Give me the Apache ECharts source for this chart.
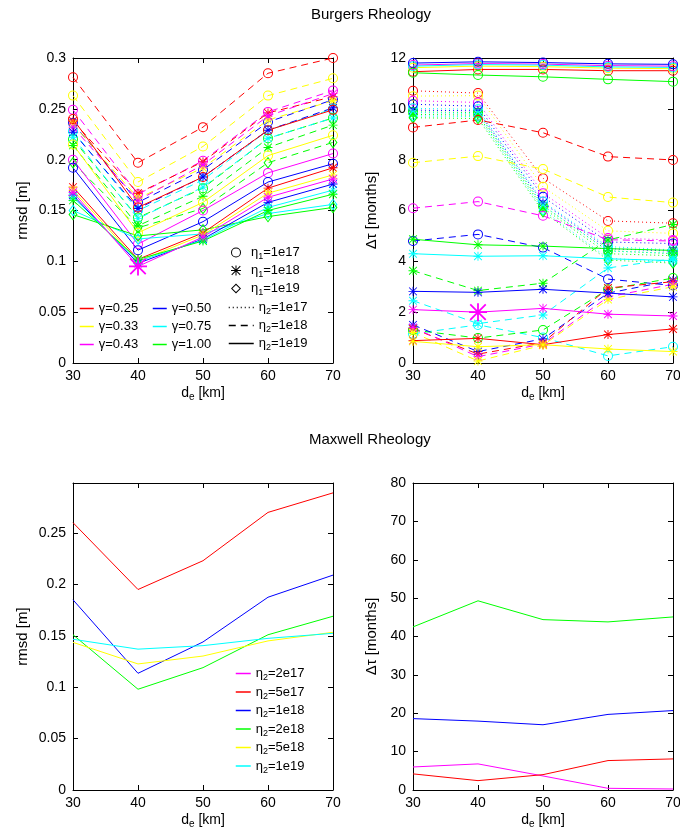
<!DOCTYPE html>
<html><head><meta charset="utf-8">
<script src="https://cdn.jsdelivr.net/npm/echarts@6/dist/echarts.min.js"></script>
<style>html,body{margin:0;padding:0;background:#fff}#c{width:680px;height:834px}</style>
</head><body><div id="c"></div><script>
// ---------------- DATA ----------------
const deKm = [30, 40, 50, 60, 70];
const gammaNames = ['γ=0.25', 'γ=0.33', 'γ=0.43', 'γ=0.50', 'γ=0.75', 'γ=1.00'];
const eta1Names = ['η1=1e17', 'η1=1e18', 'η1=1e19'];
const eta2Names = ['η2=1e17', 'η2=1e18', 'η2=1e19'];
const maxwellNames = ['η2=2e17', 'η2=5e17', 'η2=1e18', 'η2=2e18', 'η2=5e18', 'η2=1e19'];

// Burgers rmsd [m]; naming: rm_<gamma>_<eta1 exp>_<eta2 exp>
const rm_R_17_18 = [0.281, 0.197, 0.232, 0.285, 0.300];
const rm_Y_17_18 = [0.263, 0.178, 0.213, 0.263, 0.280];
const rm_M_17_18 = [0.249, 0.166, 0.199, 0.247, 0.268];
const rm_B_17_18 = [0.236, 0.158, 0.190, 0.237, 0.259];
const rm_C_17_18 = [0.228, 0.150, 0.180, 0.229, 0.250];
const rm_G_17_18 = [0.220, 0.143, 0.172, 0.221, 0.241];
const rm_R_18_18 = [0.238, 0.167, 0.198, 0.246, 0.262];
const rm_Y_18_18 = [0.235, 0.162, 0.192, 0.239, 0.258];
const rm_M_18_18 = [0.232, 0.160, 0.195, 0.243, 0.265];
const rm_B_18_18 = [0.227, 0.152, 0.183, 0.229, 0.251];
const rm_C_18_18 = [0.222, 0.142, 0.173, 0.221, 0.241];
const rm_G_18_18 = [0.214, 0.135, 0.164, 0.212, 0.234];
const rm_G_19_18 = [0.197, 0.133, 0.152, 0.197, 0.217];
const rm_R_17_19 = [0.240, 0.153, 0.183, 0.229, 0.249];
const rm_Y_17_19 = [0.215, 0.128, 0.158, 0.204, 0.224];
const rm_M_17_19 = [0.200, 0.117, 0.150, 0.187, 0.206];
const rm_B_17_19 = [0.192, 0.111, 0.139, 0.178, 0.196];
const rm_R_18_19 = [0.173, 0.102, 0.128, 0.172, 0.192];
const rm_Y_18_19 = [0.170, 0.100, 0.126, 0.167, 0.185];
const rm_M_18_19 = [0.168, 0.095, 0.124, 0.163, 0.181];
const rm_B_18_19 = [0.165, 0.098, 0.122, 0.158, 0.176];
const rm_C_18_19 = [0.163, 0.100, 0.121, 0.153, 0.170];
const rm_G_18_19 = [0.160, 0.102, 0.120, 0.150, 0.166];
const rm_C_19_19 = [0.150, 0.122, 0.127, 0.147, 0.156];
const rm_G_19_19 = [0.146, 0.125, 0.131, 0.144, 0.153];

// Burgers delta tau [months]
const dt_R_17_19 = [11.46, 11.55, 11.55, 11.50, 11.50];
const dt_Y_17_19 = [11.62, 11.68, 11.66, 11.60, 11.58];
const dt_M_17_19 = [11.72, 11.78, 11.76, 11.70, 11.68];
const dt_C_17_19 = [11.68, 11.74, 11.72, 11.65, 11.63];
const dt_B_17_19 = [11.80, 11.85, 11.82, 11.77, 11.75];
const dt_G_17_19 = [11.42, 11.33, 11.26, 11.16, 11.07];
const dt_R_17_17 = [10.71, 10.62, 7.27, 5.59, 5.50];
const dt_Y_17_17 = [10.50, 10.52, 6.93, 5.20, 5.10];
const dt_M_17_17 = [10.32, 10.25, 6.68, 4.92, 4.84];
const dt_B_17_17 = [10.18, 10.10, 6.54, 4.76, 4.70];
const dt_C_17_17 = [10.02, 9.98, 6.35, 4.58, 4.45];
const dt_G_17_17 = [9.88, 9.85, 6.18, 4.42, 4.30];
const dt_B_18_17 = [9.95, 9.92, 6.30, 4.50, 4.40];
const dt_C_18_17 = [9.85, 9.82, 6.20, 4.40, 4.32];
const dt_G_18_17 = [9.78, 9.75, 6.10, 4.30, 4.22];
const dt_C_19_17 = [9.72, 9.70, 6.02, 4.12, 3.98];
const dt_G_19_17 = [9.65, 9.62, 5.95, 4.05, 3.93];
const dt_R_17_18 = [9.27, 9.56, 9.06, 8.12, 7.99];
const dt_Y_17_18 = [7.88, 8.14, 7.63, 6.53, 6.31];
const dt_M_17_18 = [6.09, 6.35, 5.79, 4.85, 4.80];
const dt_B_17_18 = [4.80, 5.06, 4.54, 3.30, 3.05];
const dt_C_17_18 = [1.15, 1.50, 1.00, 0.28, 0.64];
const dt_G_17_18 = [1.30, 0.98, 1.30, 2.90, 3.34];
const dt_G_18_18 = [3.63, 2.85, 3.14, 4.84, 5.45];
const dt_C_18_18 = [2.45, 1.55, 1.89, 3.74, 4.10];
const dt_B_18_18 = [1.50, 0.45, 0.95, 2.75, 3.25];
const dt_R_18_18 = [1.35, 0.35, 0.80, 2.95, 3.20];
const dt_M_18_18 = [1.40, 0.25, 0.75, 2.60, 3.10];
const dt_Y_18_18 = [1.20, 0.08, 0.70, 2.50, 3.00];
const dt_G_18_19 = [4.87, 4.65, 4.60, 4.50, 4.43];
const dt_C_18_19 = [4.30, 4.20, 4.22, 4.10, 4.03];
const dt_B_18_19 = [2.82, 2.78, 2.90, 2.75, 2.60];
const dt_M_18_19 = [2.10, 2.00, 2.15, 1.92, 1.85];
const dt_R_18_19 = [0.88, 0.97, 0.72, 1.12, 1.34];
const dt_Y_18_19 = [0.85, 0.64, 0.72, 0.55, 0.45];

// Maxwell rheology (order: 2e17, 5e17, 1e18, 2e18, 5e18, 1e19)
const mxRmsd_2e17 = [];
const mxRmsd_5e17 = [0.260, 0.195, 0.223, 0.270, 0.289];
const mxRmsd_1e18 = [0.185, 0.1135, 0.144, 0.1875, 0.209];
const mxRmsd_2e18 = [0.151, 0.098, 0.119, 0.151, 0.169];
const mxRmsd_5e18 = [0.1436, 0.1226, 0.1303, 0.145, 0.1534];
const mxRmsd_1e19 = [0.1466, 0.137, 0.1404, 0.1475, 0.1524];
const mxDt_2e17 = [6.0, 6.8, 3.66, 0.44, 0.26];
const mxDt_5e17 = [4.2, 2.44, 4.0, 7.67, 8.1];
const mxDt_1e18 = [18.6, 17.95, 17.0, 19.7, 20.7];
const mxDt_2e18 = [42.5, 49.3, 44.4, 43.8, 45.1];
const mxDt_5e18 = [];
const mxDt_1e19 = [];

// axis ranges [min, max, interval]
const xRange = [30, 70, 10];
const rmsdRangeTop = [0, 0.3, 0.05];
const dtRangeTop = [0, 12, 2];
const rmsdRangeBottom = [0, 0.2986, 0.05];
const dtRangeBottom = [0, 80, 10];

// best fit model (gamma=0.43, eta1=1e18, eta2=1e19, de=40)
const bestFit = { g: 'M', e1: 1, e2: 2, idx: 1 };

// series lists: [values, gamma key, eta1 index, eta2 index]
const burgersRmsdList = [
  [rm_R_17_18,'R',0,1],[rm_Y_17_18,'Y',0,1],[rm_M_17_18,'M',0,1],[rm_B_17_18,'B',0,1],[rm_C_17_18,'C',0,1],[rm_G_17_18,'G',0,1],
  [rm_R_18_18,'R',1,1],[rm_Y_18_18,'Y',1,1],[rm_M_18_18,'M',1,1],[rm_B_18_18,'B',1,1],[rm_C_18_18,'C',1,1],[rm_G_18_18,'G',1,1],
  [rm_G_19_18,'G',2,1],
  [rm_R_17_19,'R',0,2],[rm_Y_17_19,'Y',0,2],[rm_M_17_19,'M',0,2],[rm_B_17_19,'B',0,2],
  [rm_C_19_19,'C',2,2],[rm_G_19_19,'G',2,2],
  [rm_R_18_19,'R',1,2],[rm_Y_18_19,'Y',1,2],[rm_B_18_19,'B',1,2],[rm_C_18_19,'C',1,2],[rm_G_18_19,'G',1,2],[rm_M_18_19,'M',1,2]
];
const burgersDtList = [
  [dt_R_17_17,'R',0,0],[dt_Y_17_17,'Y',0,0],[dt_M_17_17,'M',0,0],[dt_B_17_17,'B',0,0],[dt_C_17_17,'C',0,0],[dt_G_17_17,'G',0,0],
  [dt_B_18_17,'B',1,0],[dt_C_18_17,'C',1,0],[dt_G_18_17,'G',1,0],[dt_C_19_17,'C',2,0],[dt_G_19_17,'G',2,0],
  [dt_R_17_18,'R',0,1],[dt_Y_17_18,'Y',0,1],[dt_M_17_18,'M',0,1],[dt_B_17_18,'B',0,1],[dt_C_17_18,'C',0,1],[dt_G_17_18,'G',0,1],
  [dt_G_18_18,'G',1,1],[dt_C_18_18,'C',1,1],[dt_B_18_18,'B',1,1],[dt_R_18_18,'R',1,1],[dt_M_18_18,'M',1,1],[dt_Y_18_18,'Y',1,1],
  [dt_R_17_19,'R',0,2],[dt_Y_17_19,'Y',0,2],[dt_M_17_19,'M',0,2],[dt_C_17_19,'C',0,2],[dt_B_17_19,'B',0,2],[dt_G_17_19,'G',0,2],
  [dt_G_18_19,'G',1,2],[dt_C_18_19,'C',1,2],[dt_B_18_19,'B',1,2],[dt_R_18_19,'R',1,2],[dt_Y_18_19,'Y',1,2],[dt_M_18_19,'M',1,2]
];
const maxwellRmsd = [mxRmsd_2e17, mxRmsd_5e17, mxRmsd_1e18, mxRmsd_2e18, mxRmsd_5e18, mxRmsd_1e19];
const maxwellDt = [mxDt_2e17, mxDt_5e17, mxDt_1e18, mxDt_2e18, mxDt_5e18, mxDt_1e19];

// ---------------- STYLE ----------------
const FONT = '"Liberation Sans", Arial, Helvetica, sans-serif';
const gammaKeys = ['R','Y','M','B','C','G'];
const colors = { R:'#ff0000', Y:'#ffff00', M:'#ff00ff', B:'#0000ff', C:'#00ffff', G:'#00ff00' };
const maxwellColors = ['#ff00ff', '#ff0000', '#0000ff', '#00ff00', '#ffff00', '#00ffff'];
const RING = 'path://M10 0 A10 10 0 1 1 9.99 0 Z M10 2 A8 8 0 1 0 10.01 2 Z';
const STAR = 'path://M0 9 L20 9 L20 11 L0 11 Z M9 0 L11 0 L11 20 L9 20 Z M2.1 0.7 L19.3 17.9 L17.9 19.3 L0.7 2.1 Z M17.9 0.7 L19.3 2.1 L2.1 19.3 L0.7 17.9 Z';
const DIAM = 'path://M10 0 L20 10 L10 20 L0 10 Z M10 2.8 L2.8 10 L10 17.2 L17.2 10 Z';
const markers = [RING, STAR, DIAM];
const markerSizes = [10, 9, [9, 12]];
const dashes = [[1, 3], [7, 5], 'solid'];

const richText = {
  n: { fontSize: 14, fontFamily: FONT, color: '#000' },
  s: { fontSize: 10, fontFamily: FONT, color: '#000', verticalAlign: 'bottom', padding: [7, 0, 0, 0] }
};
const legRich = {
  n: { fontSize: 13, fontFamily: FONT, color: '#000', lineHeight: 18 },
  s: { fontSize: 9, fontFamily: FONT, color: '#000', lineHeight: 9, verticalAlign: 'bottom' }
};

const grids = [
  { left: 73, top: 58, width: 260, height: 305 },
  { left: 413, top: 58, width: 260, height: 305 },
  { left: 73, top: 483, width: 260, height: 307 },
  { left: 413, top: 483, width: 260, height: 307 }
].map(g => Object.assign({ show: false, outerBoundsMode: 'none', containLabel: false }, g));

const xAxes = [], yAxes = [];
function addAxes(gi, yr, yName, yGap, hideMax) {
  [false, true].forEach(top => {
    xAxes.push({
      type: 'value', gridIndex: gi, min: xRange[0], max: xRange[1], interval: xRange[2],
      position: top ? 'top' : 'bottom',
      axisLine: { show: true, onZero: false, lineStyle: { color: '#000', width: 1 } },
      axisTick: { show: true, inside: true, length: 5, lineStyle: { color: '#000', width: 1 } },
      axisLabel: { show: !top, color: '#000', fontSize: 14, fontFamily: FONT, margin: 6 },
      splitLine: { show: false },
      name: top ? '' : '{n|d}{s|e}{n| [km]}', nameLocation: 'middle', nameGap: 22,
      nameTextStyle: { rich: richText }
    });
  });
  [false, true].forEach(right => {
    yAxes.push({
      type: 'value', gridIndex: gi, min: yr[0], max: yr[1], interval: yr[2],
      position: right ? 'right' : 'left',
      axisLine: { show: true, onZero: false, lineStyle: { color: '#000', width: 1 } },
      axisTick: { show: true, inside: true, length: 5, lineStyle: { color: '#000', width: 1 } },
      axisLabel: { show: !right, color: '#000', fontSize: 14, fontFamily: FONT, margin: 7, showMaxLabel: !hideMax },
      splitLine: { show: false },
      name: right ? '' : yName, nameLocation: 'middle', nameGap: yGap,
      nameTextStyle: { color: '#000', fontSize: 15, fontFamily: FONT }
    });
  });
}
addAxes(0, rmsdRangeTop, 'rmsd [m]', 43, false);
addAxes(1, dtRangeTop, 'Δτ [months]', 34, false);
addAxes(2, rmsdRangeBottom, 'rmsd [m]', 43, true);
addAxes(3, dtRangeBottom, 'Δτ [months]', 34, false);

const series = [];
function burgers(gi, list) {
  list.forEach(([vals, g, e1, e2]) => {
    const c = colors[g];
    const isBest = g === bestFit.g && e1 === bestFit.e1 && e2 === bestFit.e2;
    series.push({
      type: 'line', xAxisIndex: 2 * gi, yAxisIndex: 2 * gi,
      data: deKm.map((x, k) => (isBest && k === bestFit.idx) ? { value: [x, vals[k]], symbolSize: 18 } : [x, vals[k]]),
      symbol: markers[e1], symbolSize: markerSizes[e1],
      color: c, itemStyle: { color: c },
      lineStyle: { color: c, width: 1, type: dashes[e2] },
      animation: false, silent: true
    });
  });
}
burgers(0, burgersRmsdList);
burgers(1, burgersDtList);

function maxwell(gi, arrs) {
  arrs.forEach((vals, i) => {
    series.push({
      type: 'line', name: 'M|' + maxwellNames[i], xAxisIndex: 2 * gi, yAxisIndex: 2 * gi,
      data: vals.map((v, k) => [deKm[k], v]), symbol: 'none',
      color: maxwellColors[i], itemStyle: { color: maxwellColors[i], opacity: 0 },
      lineStyle: { color: maxwellColors[i], width: 1, opacity: 1 },
      animation: false, silent: true
    });
  });
}
maxwell(2, maxwellRmsd);
maxwell(3, maxwellDt);

// legend-only series
gammaNames.forEach((n, i) => series.push({ type: 'line', name: n, data: [], xAxisIndex: 0, yAxisIndex: 0,
  symbol: 'none', color: colors[gammaKeys[i]], itemStyle: { opacity: 0 }, lineStyle: { color: colors[gammaKeys[i]], width: 1, opacity: 1 } }));
eta1Names.forEach((n, i) => series.push({ type: 'line', name: n, data: [], xAxisIndex: 0, yAxisIndex: 0,
  symbol: markers[i], color: '#000', itemStyle: { color: '#000' }, lineStyle: { width: 0 } }));
eta2Names.forEach((n, i) => series.push({ type: 'line', name: 'B|' + n, data: [], xAxisIndex: 0, yAxisIndex: 0,
  symbol: 'none', color: '#000', itemStyle: { opacity: 0 }, lineStyle: { color: '#000', width: 1, type: dashes[i], opacity: 1 } }));

function fmt(name) {
  const t = name.indexOf('|') >= 0 ? name.split('|')[1] : name;
  const m = t.match(/^η(\d)(=.*)$/);
  if (m) return '{n|η}{s|' + m[1] + '}{n|' + m[2] + '}';
  return '{n|' + t + '}';
}
const legBase = { orient: 'vertical', padding: 0, selectedMode: false, formatter: fmt,
  textStyle: { rich: legRich, fontSize: 13, fontFamily: FONT, color: '#000' } };
const lineOnly = { itemStyle: { opacity: 0 }, lineStyle: { opacity: 1, width: 1.5 } };
const legend = [
  Object.assign({}, legBase, lineOnly, { data: gammaNames.slice(0, 3), left: 79, top: 302, itemGap: 5, itemWidth: 14, itemHeight: 10 }),
  Object.assign({}, legBase, lineOnly, { data: gammaNames.slice(3), left: 152, top: 302, itemGap: 5, itemWidth: 14, itemHeight: 10 }),
  Object.assign({}, legBase, { data: eta1Names.map((n, i) => ({ name: n, icon: markers[i] })), left: 231, top: 246, itemGap: 2.5, itemWidth: 20, itemHeight: 10 }),
  Object.assign({}, legBase, lineOnly, { data: eta2Names.map(n => 'B|' + n), left: 228, top: 301, itemGap: 2.5, itemWidth: 25, itemHeight: 10 }),
  Object.assign({}, legBase, lineOnly, { data: maxwellNames.map(n => 'M|' + n), left: 235, top: 667, itemGap: 3, itemWidth: 15, itemHeight: 10 })
];

const chart = echarts.init(document.getElementById('c'), null, { renderer: 'canvas' });
chart.setOption({
  backgroundColor: '#fff',
  animation: false,
  title: [
    { text: 'Burgers Rheology', left: 311, top: 7, padding: 0, textStyle: { fontSize: 15, fontWeight: 'normal', color: '#000', fontFamily: FONT } },
    { text: 'Maxwell Rheology', left: 309, top: 432, padding: 0, textStyle: { fontSize: 15, fontWeight: 'normal', color: '#000', fontFamily: FONT } }
  ],
  grid: grids, xAxis: xAxes, yAxis: yAxes, legend: legend, series: series
});
</script></body></html>
